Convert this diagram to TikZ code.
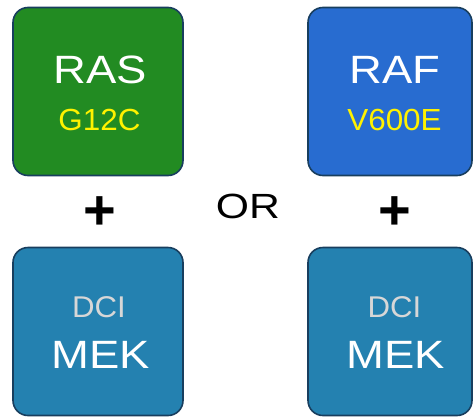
\documentclass[tikz,border=0pt]{standalone}
\usepackage{fontspec}
\setmainfont{Liberation Sans}
\definecolor{rasgreen}{RGB}{34,139,34}
\definecolor{rafblue}{RGB}{40,108,208}
\definecolor{mekteal}{RGB}{36,129,176}
\definecolor{edgenavy}{RGB}{24,62,94}
\definecolor{dcigray}{RGB}{215,215,215}
\begin{document}
\begin{tikzpicture}[x=1pt,y=-1pt]
% Styles
\tikzset{
  genebox/.style={rectangle, draw=edgenavy, line width=1.6pt, rounded corners=15pt, minimum height=168pt, inner sep=0pt},
  bigtext/.style={anchor=base, text=white, font=\fontsize{39.5}{40}\selectfont, xscale=1.15, inner sep=0pt},
  smalltext/.style={anchor=base, text=yellow, font=\fontsize{30.5}{31}\selectfont, xscale=1.03, inner sep=0pt},
  dcitext/.style={anchor=base, text=dcigray, font=\fontsize{30}{30}\selectfont, xscale=1.04, inner sep=0pt},
  plussign/.style={font=\fontsize{56}{56}\selectfont\bfseries, inner sep=0pt}
}
\useasboundingbox (0,0) rectangle (473,418);

% Boxes
\node[genebox, minimum width=170pt, fill=rasgreen] (ras_box) at (98,91.5) {};
\node[genebox, minimum width=164pt, fill=rafblue] (raf_box) at (390,91.5) {};
\node[genebox, minimum width=170pt, fill=mekteal] (mek_left) at (98,331.5) {};
\node[genebox, minimum width=164pt, fill=mekteal] (mek_right) at (390,331.5) {};

% Texts
\node[bigtext] (ras_name) at (100,83.5) {RAS};
\node[smalltext] (ras_mut) at (99.5,130) {G12C};
\node[bigtext] (raf_name) at (395,83.5) {RAF};
\node[smalltext] (raf_mut) at (394.5,130) {V600E};
\node[dcitext] (dci_left) at (99,317) {DCI};
\node[bigtext] (mek_left_name) at (100.5,368) {MEK};
\node[dcitext] (dci_right) at (394.5,317) {DCI};
\node[bigtext] (mek_right_name) at (396,368) {MEK};

% Operators
\node[plussign] (plus_left) at (100,213) {+};
\node[plussign] (plus_right) at (395,213) {+};
\node[anchor=base, font=\fontsize{35}{35}\selectfont, xscale=1.22, inner sep=0pt] (or_word) at (248,218) {OR};
\end{tikzpicture}
\end{document}
